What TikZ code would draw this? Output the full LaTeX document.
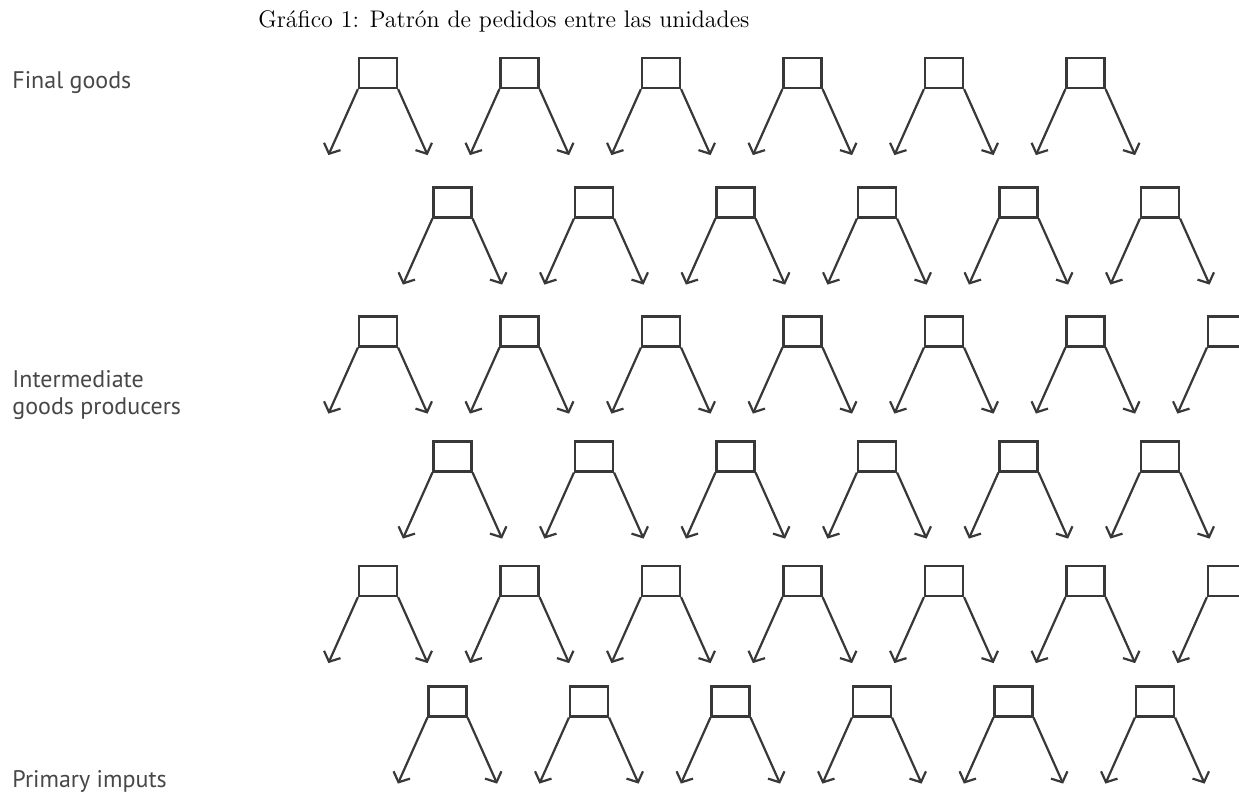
\documentclass[tikz,border=0pt]{standalone}
\usepackage{fontspec}
\newfontfamily\labelfont{PT Sans}
\usetikzlibrary{arrows.meta}

\begin{document}
\begin{tikzpicture}[
    x=0.5pt, y=-0.5pt,
    >={Straight Barb[length=4pt,width=9pt]},
    unit/.style={
        draw=black!78,
        line width=1.1pt,
        inner sep=0pt,
        minimum width=19pt,
        minimum height=15pt
    },
    order/.style={
        ->,
        draw=black!78,
        line width=1.1pt
    },
    rowlabel/.style={
        font=\labelfont\fontsize{12}{13.5}\selectfont,
        text=black!72,
        inner sep=0pt,
        align=left
    },
    title/.style={
        font=\fontsize{12}{14}\selectfont,
        inner sep=0pt
    }
]
\useasboundingbox (0,0) rectangle (1239,792);
\clip (0,0) rectangle (1239,792);

\node[title,anchor=base west] (title) at (258,28) {Gráfico 1: Patrón de pedidos entre las unidades};

\node[rowlabel,anchor=base west] (final) at (12,89) {Final goods};
\node[rowlabel,anchor=base west] (inter) at (12,415) {Intermediate\\goods producers};
\node[rowlabel,anchor=base west] (prim) at (12,787) {Primary imputs};

% rows of units: row / centre y / centre x of first / count
\foreach \r/\y/\xa/\n in {1/73/378/6, 2/202.5/452.5/6, 3/331.5/378/7,
                          4/456.5/452.5/6, 5/581/378/7, 6/701.5/447.5/6} {
  \foreach \k in {1,...,\n} {
    \node[unit] (u\r-\k) at ({\xa+141.5*(\k-1)},\y) {};
    \coordinate (l\r-\k) at ([shift={(-29.5,66)}]u\r-\k.south west);
    \coordinate (r\r-\k) at ([shift={(29.5,66)}]u\r-\k.south east);
    \draw[order] (u\r-\k.south west) -- (l\r-\k);
    \draw[order] (u\r-\k.south east) -- (r\r-\k);
  }
}

\end{tikzpicture}
\end{document}
